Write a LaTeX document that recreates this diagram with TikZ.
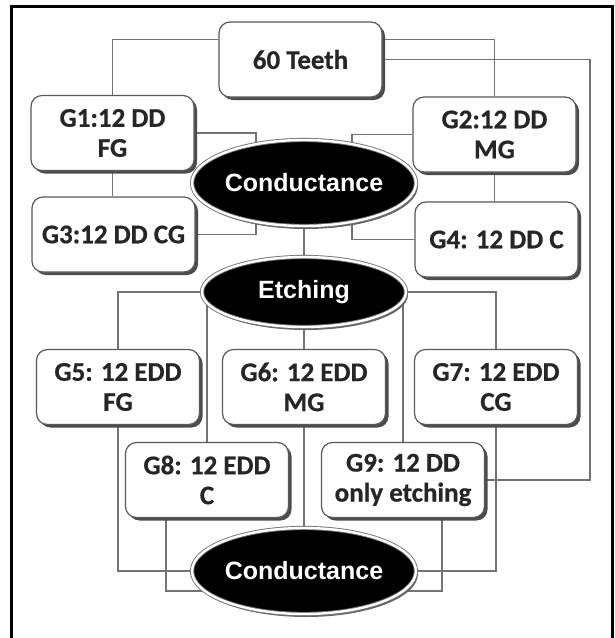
\documentclass[tikz,border=0pt]{standalone}
\usepackage{fontspec}
\setmainfont{Carlito}[BoldFeatures={FakeBold=0.6}]
\newfontfamily\condfont{Liberation Sans}
\usetikzlibrary{shapes.geometric,shadows,backgrounds,calc}
\begin{document}
\begin{tikzpicture}[x=1pt,y=-1pt,
  box/.style={draw=black!65, line width=1.2pt, rounded corners=11pt, fill=white,
    minimum width=163pt, minimum height=75pt, align=center, inner sep=0pt,
    font=\fontsize{27}{30}\selectfont\bfseries, text=black!85,
    drop shadow={shadow xshift=3pt, shadow yshift=-3pt, fill=black!70, opacity=1}},
  oval/.style={ellipse, fill=black, draw=black!55, double=white, double distance=2.4pt,
    line width=0.9pt, inner sep=0pt, text=white,
    font=\condfont\fontsize{25}{28}\selectfont\bfseries,
    drop shadow={shadow xshift=2pt, shadow yshift=-3pt, fill=black!60, opacity=1}},
  conn/.style={draw=black!55, line width=1.3pt}]
\useasboundingbox (0,0) rectangle (615,638);

\node[box] (teeth) at (300.5,59.5) {60 Teeth};
\node[box] (g1) at (112.5,133) {G1:12 DD\\FG};
\node[box] (g2) at (494.5,134.5) {G2:12 DD\\MG};
\node[box] (g3) at (113.5,234.5) {G3:12 DD CG};
\node[box] (g4) at (496.5,239.5) {G4: 12 DD C};
\node[oval, minimum width=216pt, minimum height=86pt] (cond1) at (304,183) {Conductance};
\node[oval, minimum width=204pt, minimum height=70pt] (etch) at (304,292) {Etching};
\node[box] (g5) at (118,387) {G5: 12 EDD\\FG};
\node[box] (g6) at (304,387) {G6: 12 EDD\\MG};
\node[box] (g7) at (496,387) {G7: 12 EDD\\CG};
\node[box] (g8) at (207,480) {G8: 12 EDD\\C};
\node[box] (g9) at (403,480) {G9: 12 DD\\only etching};
\node[oval, minimum width=216pt, minimum height=86pt] (cond2) at (304,571) {Conductance};
\coordinate (rr) at (590,0);

\begin{pgfonlayer}{background}
  \fill[white] (0,0) rectangle (615,638);
  \begin{scope}
    \clip (0,0) rectangle (615,638);
    \draw[line width=3pt] (11,6) rectangle (612,680);
  \end{scope}
  \draw[conn] ([yshift=-18pt]teeth.north west) -| (g1.north);
  \draw[conn] ([yshift=-18pt]teeth.north east) -| (g2.north);
  \draw[conn] (teeth.east) -| (rr |- g9.east) -- (g9.east);
  \draw[conn] (g1.east) -| ([xshift=-48pt]cond1.center);
  \draw[conn] (g3.east) -| ([xshift=-48pt]cond1.center);
  \draw[conn] (g2.west) -| ([xshift=48pt]cond1.center);
  \draw[conn] (g4.west) -| ([xshift=48pt]cond1.center);
  \draw[conn] (g1.south) -- (g3.north -| g1.south);
  \draw[conn] (g2.south) -- (g4.north -| g2.south);
  \draw[conn] (cond1.center) -- (etch.center);
  \draw[conn] (etch.west) -| (g5.north);
  \draw[conn] (etch.east) -| (g7.north);
  \draw[conn] (etch.center -| g8.north) -- (g8.north);
  \draw[conn] (etch.center -| g9.north) -- (g9.north);
  \draw[conn] (etch.center) -- (g6.north);
  \draw[conn] (g6.south) -- (cond2.center);
  \draw[conn] (g5.south) |- (cond2.west);
  \draw[conn] (g7.south) |- (cond2.east);
  \draw[conn] ([xshift=-41pt]g8.south) |- ([yshift=-20pt]cond2.center);
  \draw[conn] ([xshift=39pt]g9.south) |- ([yshift=-20pt]cond2.center);
\end{pgfonlayer}
\end{tikzpicture}
\end{document}
